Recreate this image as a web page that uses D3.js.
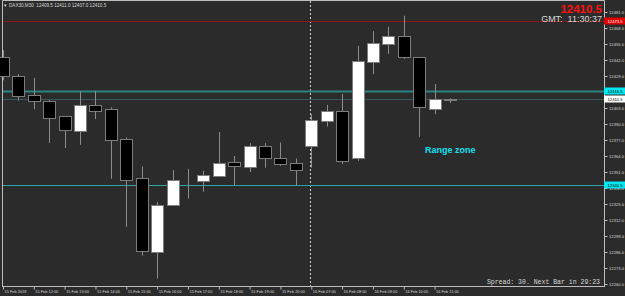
<!DOCTYPE html>
<html>
<head>
<meta charset="utf-8">
<script src="https://cdn.jsdelivr.net/npm/d3@7"></script>
<style>
  body { margin: 0; background: #2b2b2b; overflow: hidden; }
  text { font-family: "Liberation Sans", Arial, sans-serif; }
</style>
</head>
<body>
<div id="chart"></div>
<script>
// M30 bars, 15 Feb 11:00 -> 16 Feb 11:30
const times = [
  "15 Feb 11:00", "15 Feb 11:30", "15 Feb 12:00", "15 Feb 12:30", "15 Feb 13:00",
  "15 Feb 13:30", "15 Feb 14:00", "15 Feb 14:30", "15 Feb 15:00", "15 Feb 15:30",
  "15 Feb 16:00", "15 Feb 16:30", "15 Feb 17:00", "15 Feb 17:30", "15 Feb 18:00",
  "15 Feb 18:30", "15 Feb 19:00", "15 Feb 19:30", "15 Feb 20:00", "15 Feb 20:30",
  "16 Feb 07:00", "16 Feb 07:30", "16 Feb 08:00", "16 Feb 08:30", "16 Feb 09:00",
  "16 Feb 09:30", "16 Feb 10:00", "16 Feb 10:30", "16 Feb 11:00", "16 Feb 11:30"
];
const opens  = [12444.5, 12429.0, 12413.5, 12408.5, 12396.5, 12384.5, 12405.5, 12402.0, 12378.0, 12346.0,
                12286.0, 12324.0, 12344.0, 12343.5, 12348.0, 12359.0, 12355.0, 12372.0, 12362.5, 12358.5,
                12372.5, 12392.5, 12400.5, 12362.0, 12440.0, 12455.0, 12461.5, 12444.5, 12402.0, 12409.5];
const highs  = [12450.0, 12430.5, 12427.5, 12409.5, 12396.5, 12416.5, 12417.0, 12403.5, 12379.0, 12355.5,
                12326.5, 12352.5, 12353.5, 12352.0, 12383.5, 12364.0, 12374.5, 12374.5, 12375.0, 12362.0,
                12398.0, 12405.5, 12414.5, 12453.5, 12465.5, 12469.0, 12478.0, 12444.5, 12422.5, 12411.0];
const lows   = [12425.5, 12409.0, 12402.0, 12374.5, 12370.5, 12373.0, 12394.0, 12345.5, 12306.5, 12283.0,
                12264.5, 12324.0, 12329.5, 12335.0, 12348.0, 12340.0, 12351.0, 12354.5, 12356.0, 12340.0,
                12354.5, 12388.0, 12357.5, 12360.0, 12430.5, 12447.0, 12443.0, 12379.5, 12398.0, 12407.0];
const closes = [12429.0, 12413.0, 12408.5, 12395.0, 12385.0, 12405.5, 12400.5, 12376.5, 12345.0, 12286.5,
                12324.5, 12344.5, 12344.0, 12348.5, 12358.5, 12355.5, 12372.0, 12362.0, 12358.0, 12353.0,
                12393.5, 12400.5, 12360.0, 12441.0, 12455.5, 12461.5, 12444.5, 12404.0, 12410.0, 12410.5];

const xLabels = ["15 Feb 11:00", "15 Feb 12:00", "15 Feb 13:00", "15 Feb 14:00", "15 Feb 15:00",
                 "15 Feb 16:00", "15 Feb 17:00", "15 Feb 18:00", "15 Feb 19:00", "15 Feb 20:00",
                 "16 Feb 07:00", "16 Feb 08:00", "16 Feb 09:00", "16 Feb 10:00", "16 Feb 11:00"];
// 12416.0 sits under the cyan box, so it is left out
const yTicks = [12481, 12468, 12455, 12442, 12429, 12403, 12390, 12377, 12364,
                12351, 12338, 12325, 12312, 12299, 12286, 12273, 12260];

// horizontal levels: red line, range zone top, bid, range zone bottom
const levels = [12473.5, 12416.5, 12410.5, 12340.5];
const levelKinds = ["red", "zoneTop", "bid", "zoneBottom"];

const width = 625, height = 296;
const plotLeft = 2, plotRight = 604, plotBottom = 286;

const levelStyle = {
  red:        {line: "#8e1616", w: 1, box: "#e00000", text: "#ffffff"},
  zoneTop:    {line: "#2b8585", w: 2, box: "#00e8f0", text: "#000000"},
  bid:        {line: "#34585a", w: 1, box: "#ffffff", text: "#000000"},
  zoneBottom: {line: "#2aa3a8", w: 1, box: "#00e8f0", text: "#000000"}
};

const bars = times.map((t, i) => ({t, o: opens[i], h: highs[i], l: lows[i], c: closes[i]}));

const x = d3.scalePoint()
  .domain(times)
  .range([3, 450]);

const y = d3.scaleLinear()
  .domain([12260, 12481])
  .range([284, 12]);

const svg = d3.select("#chart")
  .append("svg")
  .attr("width", width)
  .attr("height", height)
  .style("display", "block");

svg.append("rect")
  .attr("width", width).attr("height", height)
  .attr("fill", "#2b2b2b");

// frame
svg.append("path")
  .attr("d", `M${plotLeft + 0.5},${plotBottom} V0.5 H${plotRight + 0.5} V${plotBottom + 0.5}`)
  .attr("fill", "none")
  .attr("stroke", "#bdbdbd")
  .attr("stroke-width", 1);

// day separator
svg.append("line")
  .attr("x1", Math.round(x("16 Feb 07:00")) - 0.5)
  .attr("x2", Math.round(x("16 Feb 07:00")) - 0.5)
  .attr("y1", 1).attr("y2", plotBottom)
  .attr("stroke", "#d0d0d0")
  .attr("stroke-dasharray", "2,2");

// level lines
svg.append("g")
  .selectAll("line")
  .data(levels)
  .join("line")
    .attr("x1", plotLeft + 1)
    .attr("x2", plotRight)
    .attr("y1", d => Math.round(y(d)) + 0.5)
    .attr("y2", d => Math.round(y(d)) + 0.5)
    .attr("stroke", (d, i) => levelStyle[levelKinds[i]].line)
    .attr("stroke-width", (d, i) => levelStyle[levelKinds[i]].w);

// candles
const candle = svg.append("g")
  .selectAll("g")
  .data(bars)
  .join("g")
    .attr("transform", d => `translate(${Math.round(x(d.t)) + 0.5},0)`);

candle.append("line")
  .attr("y1", d => y(d.h))
  .attr("y2", d => y(d.l))
  .attr("stroke", "#8c8c8c")
  .attr("stroke-width", 1);

candle.append("rect")
  .attr("x", -6)
  .attr("width", 12)
  .attr("y", d => Math.round(y(Math.max(d.o, d.c))) + 0.5)
  .attr("height", d => Math.max(0, Math.round(y(Math.min(d.o, d.c)) - y(Math.max(d.o, d.c)))))
  .attr("fill", d => d.c > d.o ? "#ffffff" : "#000000")
  .attr("stroke", d => d.c === d.o ? "#8c8c8c" : "#7c7c7c")
  .attr("stroke-width", 1);

// right price axis
const yAxis = g => g
  .attr("transform", `translate(${plotRight + 0.5},0)`)
  .call(d3.axisRight(y).tickValues(yTicks).tickFormat(d3.format(".1f")).tickSize(3).tickPadding(1.5))
  .call(g => g.select(".domain").remove())
  .call(g => g.selectAll(".tick line").attr("stroke", "#bdbdbd"))
  .call(g => g.selectAll(".tick text")
      .attr("fill", "#d6d6d6")
      .attr("font-size", 4.2)
      .attr("font-family", "Liberation Sans, Arial, sans-serif"));

svg.append("g").call(yAxis);

// time axis
const xAxis = g => g
  .attr("transform", `translate(0,${plotBottom + 0.5})`)
  .call(d3.axisBottom(x).tickValues(xLabels).tickSize(3).tickPadding(1)
      .tickFormat(d => d === "15 Feb 11:00" ? "15 Feb 2018" : d))
  .call(g => g.select(".domain").remove())
  .call(g => g.selectAll(".tick line").attr("stroke", "#bdbdbd"))
  .call(g => g.selectAll(".tick text")
      .attr("text-anchor", "start")
      .attr("x", 1)
      .attr("fill", "#d6d6d6")
      .attr("font-size", 3.9)
      .attr("font-family", "Liberation Sans, Arial, sans-serif"));

svg.append("g").call(xAxis);

svg.append("line")
  .attr("x1", plotLeft).attr("x2", plotRight + 1)
  .attr("y1", plotBottom + 0.5).attr("y2", plotBottom + 0.5)
  .attr("stroke", "#bdbdbd");

// coloured price boxes on the axis
const boxes = svg.append("g")
  .selectAll("g")
  .data(levels)
  .join("g")
    .attr("transform", d => `translate(${plotRight},${Math.round(y(d))})`);

boxes.append("rect")
  .attr("x", 0).attr("y", -3.5)
  .attr("width", 21).attr("height", 7)
  .attr("fill", (d, i) => levelStyle[levelKinds[i]].box);

boxes.append("text")
  .attr("x", 3.5).attr("y", 1.8)
  .attr("font-size", 4.2)
  .attr("fill", (d, i) => levelStyle[levelKinds[i]].text)
  .text(d => d3.format(".1f")(d));

// header
svg.append("text")
  .attr("x", 3).attr("y", 6.5)
  .attr("font-size", 4.5)
  .attr("fill", "#d6d6d6")
  .text("\u25BC");

svg.append("text")
  .attr("x", 9).attr("y", 6.5)
  .attr("font-size", 4.6)
  .attr("fill", "#d6d6d6")
  .attr("xml:space", "preserve")
  .text("DAX30,M30  12409.5 12411.0 12407.0 12410.5");

svg.append("text")
  .attr("x", 602).attr("y", 13)
  .attr("text-anchor", "end")
  .attr("font-size", 11.5)
  .attr("font-weight", "bold")
  .attr("fill", "#ff1010")
  .text(d3.format(".1f")(closes[closes.length - 1]));

svg.append("text")
  .attr("x", 602).attr("y", 21.5)
  .attr("text-anchor", "end")
  .attr("font-size", 9)
  .attr("fill", "#d8d8d8")
  .attr("xml:space", "preserve")
  .text("GMT:  11:30:37");

svg.append("text")
  .attr("x", 425).attr("y", 153)
  .attr("font-size", 9)
  .attr("font-weight", "bold")
  .attr("fill", "#14e0f0")
  .text("Range zone");

svg.append("text")
  .attr("x", 600).attr("y", 284)
  .attr("text-anchor", "end")
  .attr("font-size", 6.5)
  .style("font-family", "Liberation Mono, monospace")
  .attr("fill", "#d8d8d8")
  .text("Spread: 30. Next Bar in 29:23");
</script>
</body>
</html>
